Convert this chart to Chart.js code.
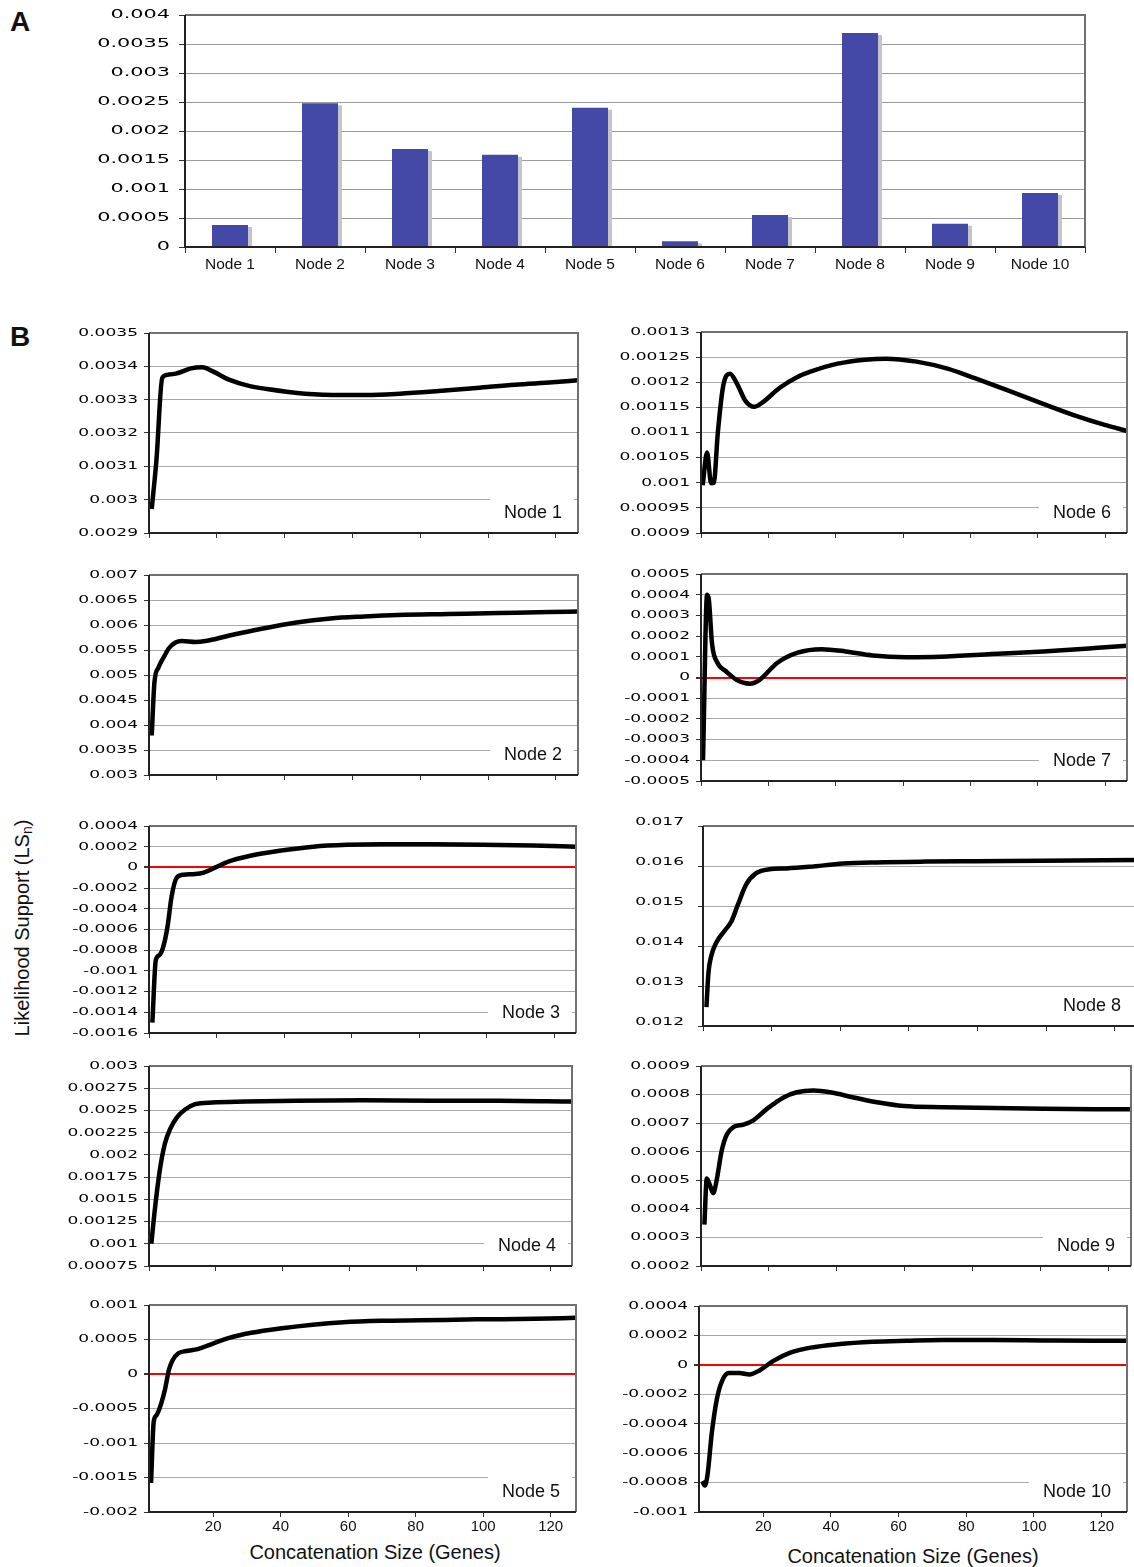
<!DOCTYPE html>
<html>
<head>
<meta charset="utf-8">
<title>Likelihood support per node</title>
<script src="https://cdn.jsdelivr.net/npm/chart.js@4"></script>
<style>
  body { margin: 0; background: #fff; overflow: hidden; }
  #page { position: relative; width: 1134px; height: 1567px; overflow: hidden; font-family: "Liberation Sans", Arial, sans-serif; color: #111; }
  canvas { position: absolute; }
  .panel { position: absolute; left: 10px; font-weight: bold; font-size: 28px; line-height: 28px; }
  .xtitle { position: absolute; font-size: 20px; line-height: 20px; white-space: nowrap; transform: translateX(-50%); }
  .ytitle { position: absolute; font-size: 20px; line-height: 20px; white-space: nowrap; transform: translate(-50%, -50%) rotate(-90deg); }
  .ytitle sub { font-size: 14px; vertical-align: -3px; line-height: 0; }
</style>
</head>
<body>
<div id="page">
  <div class="panel" style="top:8px">A</div>
  <div class="panel" style="top:323px">B</div>
  <div class="ytitle" style="left:22px; top:928px">Likelihood Support (LS<sub>n</sub>)</div>
  <div class="xtitle" style="left:375px; top:1542px">Concatenation Size (Genes)</div>
  <div class="xtitle" style="left:913px; top:1546px">Concatenation Size (Genes)</div>
</div>
<script>
// A: bar chart
const nodeNames = ['Node 1', 'Node 2', 'Node 3', 'Node 4', 'Node 5', 'Node 6', 'Node 7', 'Node 8', 'Node 9', 'Node 10'];
const barValues = [0.00038, 0.00248, 0.00169, 0.00159, 0.0024, 0.0001, 0.00055, 0.00369, 0.0004, 0.00093];
const barAxis = [0, 0.004, 0.0005];

// B: [genes, LSn]
const node1 = [[1.8, 0.002972], [3.2, 0.00312], [4.9, 0.003365], [6.6, 0.003375], [8.9, 0.003378], [13.4, 0.003394], [16.7, 0.003397], [20, 0.003384], [24.6, 0.00336], [30.2, 0.003342], [35.8, 0.003332], [47, 0.003318], [58.3, 0.003314], [65, 0.003314], [75, 0.003318], [86.4, 0.003326], [97.6, 0.003335], [108.9, 0.003345], [120, 0.003352], [127.5, 0.003358]];
const node2 = [[1.8, 0.00379], [2.6, 0.00485], [3.8, 0.00515], [5.3, 0.00535], [6.8, 0.00553], [8.8, 0.00565], [10.7, 0.00568], [14.7, 0.00566], [17.7, 0.00568], [24.7, 0.00579], [34.6, 0.00593], [44.5, 0.00605], [54.5, 0.00613], [64.4, 0.00617], [74.4, 0.0062], [89.3, 0.00622], [104.2, 0.00624], [119, 0.00626], [127.5, 0.00627]];
const node3 = [[2, -0.0015], [3, -0.0009], [4, -0.00085], [5.2, -0.00077], [6.5, -0.00057], [7.7, -0.00028], [9.2, -0.0001], [11.2, -0.00007], [14.7, -0.000064], [17.2, -0.00005], [20.7, 0], [24.7, 0.000058], [30.7, 0.00011], [39.7, 0.00016], [49.7, 0.0002], [59.7, 0.000218], [69.8, 0.000224], [84.8, 0.000224], [99.8, 0.00022], [114.8, 0.000212], [127.5, 0.0002]];
const node4 = [[1.7, 0.001], [2.7, 0.00137], [4.2, 0.00182], [5.7, 0.00212], [7.3, 0.00229], [9.3, 0.00242], [11.8, 0.00251], [14.8, 0.00257], [19.9, 0.00259], [30, 0.0026], [45, 0.00261], [65.3, 0.002615], [85.5, 0.00261], [105.7, 0.00261], [127.5, 0.0026]];
const node5 = [[1.6, -0.00158], [2.4, -0.00069], [3.2, -0.0006], [4.6, -0.00043], [5.8, -0.00021], [6.9, 0.00006], [8, 0.0002], [9.7, 0.0003], [12, 0.000333], [15.4, 0.00036], [18.8, 0.00042], [24.5, 0.00052], [31.3, 0.000597], [40.4, 0.000664], [49.5, 0.000715], [58.6, 0.00075], [70, 0.00077], [81.3, 0.000778], [98.3, 0.000792], [115.4, 0.0008], [127.5, 0.000815]];
const node6 = [[1.5, 0.000995], [2.8, 0.00106], [4, 0.000999], [4.8, 0.001], [6, 0.0011], [7.6, 0.001193], [9.6, 0.001217], [11.7, 0.001197], [14.2, 0.001163], [16.8, 0.001151], [19.3, 0.00116], [24.4, 0.001189], [29.5, 0.00121], [33.5, 0.001221], [41.6, 0.001237], [49.8, 0.001245], [55.9, 0.001247], [65, 0.001241], [74.2, 0.001227], [82.3, 0.001208], [92.5, 0.001183], [102.6, 0.001157], [112.8, 0.001132], [120.9, 0.001115], [127.5, 0.001103]];
const node7 = [[1.6, -0.0004], [2.8, 0.0004], [3.3, 0.00038], [4.3, 0.00016], [5.9, 0.00007], [8.4, 0.00003], [11.4, -0.00001], [15.5, -0.00003], [18.5, -0.00001], [23.6, 0.00007], [29.7, 0.00012], [36.8, 0.000137], [43.9, 0.000126], [52, 0.000106], [62, 0.000098], [72.2, 0.0001], [87.4, 0.000113], [102.6, 0.000126], [117.8, 0.000142], [127.5, 0.000153]];
const node8 = [[2, 0.01247], [2.6, 0.01334], [3.4, 0.01375], [4.9, 0.01409], [7.3, 0.01438], [9.3, 0.01462], [11.2, 0.01504], [13.6, 0.01554], [16.5, 0.01582], [20.4, 0.01592], [25.3, 0.01594], [32, 0.01598], [41.8, 0.01606], [51.5, 0.01609], [66, 0.01611], [80.6, 0.01612], [100, 0.01613], [127.5, 0.01615]];
const node9 = [[2, 0.000345], [2.7, 0.000506], [3.7, 0.00048], [4.6, 0.000455], [5.6, 0.0005], [7.1, 0.000604], [8.6, 0.00066], [10.5, 0.000686], [13.5, 0.000695], [16.4, 0.00071], [20.4, 0.00075], [25.3, 0.00079], [29.2, 0.000808], [34.1, 0.000814], [39, 0.000808], [45.9, 0.00079], [52.8, 0.000773], [60.7, 0.00076], [72.5, 0.000756], [87.2, 0.000753], [102, 0.00075], [116.8, 0.000749], [127.5, 0.000749]];
const node10 = [[2, -0.00079], [2.7, -0.00082], [3.5, -0.00075], [4.8, -0.00046], [6.3, -0.00023], [7.8, -0.00011], [9.8, -0.000056], [12.9, -0.000056], [15.9, -0.000065], [19, -0.000036], [23, 0.000027], [28, 0.000083], [34, 0.000117], [42, 0.00014], [52.3, 0.000157], [62.4, 0.000164], [72.6, 0.000169], [87.8, 0.000169], [103, 0.000166], [118, 0.000164], [127.5, 0.000164]];

// y axes: [min, max, step]
const node1Axis = [0.0029, 0.0035, 0.0001];
const node2Axis = [0.003, 0.007, 0.0005];
const node3Axis = [-0.0016, 0.0004, 0.0002];
const node4Axis = [0.00075, 0.003, 0.00025];
const node5Axis = [-0.002, 0.001, 0.0005];
const node6Axis = [0.0009, 0.0013, 0.00005];
const node7Axis = [-0.0005, 0.0005, 0.0001];
const node8Axis = [0.012, 0.017, 0.001];
const node9Axis = [0.0002, 0.0009, 0.0001];
const node10Axis = [-0.001, 0.0004, 0.0002];

const geneRange = [1, 127.5];
const geneLabels = [20, 40, 60, 80, 100, 120];
const geneMarks = [1, 21, 41, 61, 81, 101, 121];

const page = document.getElementById('page');
const textFont = '"Liberation Sans", Arial, sans-serif';
const numFont = '"DejaVu Sans", sans-serif';

const fmt = v => String(+v.toFixed(7));

function axisTicks(axis) {
  const out = [];
  const n = Math.round((axis[1] - axis[0]) / axis[2]);
  for (let i = 0; i <= n; i++) out.push({ value: +(axis[0] + i * axis[2]).toFixed(7) });
  return out;
}

function place(rect, yw, padTop, xh, padRight) {
  const cv = document.createElement('canvas');
  const left = rect[0] - yw;
  const top = rect[1] - padTop;
  cv.width = rect[2] - left + padRight;
  cv.height = rect[3] - top + xh;
  cv.style.left = left + 'px';
  cv.style.top = top + 'px';
  page.appendChild(cv);
  return cv;
}

// the y numbers are set in a wide face, so they get stretched sideways
const wideYLabels = {
  id: 'wideYLabels',
  afterDraw(chart, args, opts) {
    const y = chart.scales.y;
    const ctx = chart.ctx;
    ctx.save();
    ctx.font = `${opts.size}px ${numFont}`;
    ctx.fillStyle = '#000';
    ctx.textAlign = 'right';
    ctx.textBaseline = 'middle';
    y.ticks.forEach(t => {
      ctx.save();
      ctx.translate(y.right - opts.gap, y.getPixelForValue(t.value) + (opts.shift || 0));
      ctx.scale(opts.stretch, 1);
      ctx.fillText(fmt(t.value), 0, 0);
      ctx.restore();
    });
    ctx.restore();
  }
};

const frame = {
  id: 'frame',
  afterDatasetsDraw(chart) {
    const { left, top, right, bottom } = chart.chartArea;
    const ctx = chart.ctx;
    ctx.save();
    ctx.lineWidth = 2;
    ctx.strokeStyle = '#707070';
    ctx.beginPath();
    ctx.moveTo(left, top); ctx.lineTo(right, top); ctx.lineTo(right, bottom);
    ctx.stroke();
    ctx.strokeStyle = '#222';
    ctx.beginPath();
    ctx.moveTo(left, top); ctx.lineTo(left, bottom); ctx.lineTo(right, bottom);
    ctx.stroke();
    ctx.restore();
  }
};

const nodeTag = {
  id: 'nodeTag',
  beforeDatasetsDraw(chart, args, opts) {
    const a = chart.chartArea;
    const ctx = chart.ctx;
    ctx.save();
    ctx.font = `18px ${textFont}`;
    const w = ctx.measureText(opts.text).width;
    const xr = a.right - 16;
    const yc = a.bottom - 20;
    ctx.fillStyle = '#fff';
    ctx.fillRect(xr - w - 14, yc - 17, w + 26, 34);
    ctx.fillStyle = '#111';
    ctx.textAlign = 'right';
    ctx.textBaseline = 'middle';
    ctx.fillText(opts.text, xr, yc);
    ctx.restore();
  }
};

const barShadow = {
  id: 'barShadow',
  beforeDatasetsDraw(chart) {
    const c = chart.ctx;
    c.save();
    c.shadowColor = '#c4c4cc';
    c.shadowOffsetX = 4;
    c.shadowOffsetY = 2;
    c.shadowBlur = 0;
  },
  afterDatasetsDraw(chart) {
    chart.ctx.restore();
  }
};

// ---- A ----
const barCanvas = place([185, 15, 1085, 247], 145, 12, 35, 15);
new Chart(barCanvas, {
  type: 'bar',
  data: {
    labels: nodeNames,
    datasets: [{ data: barValues, backgroundColor: '#4448a6', barPercentage: 0.4, categoryPercentage: 1 }]
  },
  options: {
    animation: false,
    responsive: false,
    layout: { padding: { top: 12, right: 15, left: 0, bottom: 0 }, autoPadding: false },
    plugins: {
      legend: { display: false },
      tooltip: { enabled: false },
      wideYLabels: { size: 13, stretch: 1.6, gap: 15 }
    },
    scales: {
      x: {
        grid: { offset: true, drawOnChartArea: false, tickLength: 6, color: '#333' },
        border: { display: false },
        ticks: { font: { family: textFont, size: 15.5 }, color: '#111', padding: 2, autoSkip: false, maxRotation: 0 },
        afterFit: s => { s.height = 35; }
      },
      y: {
        min: barAxis[0],
        max: barAxis[1],
        afterBuildTicks: s => { s.ticks = axisTicks(barAxis); },
        ticks: { display: false },
        grid: { color: '#9a9a9a', tickLength: 6, tickColor: '#333' },
        border: { display: false },
        afterFit: s => { s.width = 145; }
      }
    }
  },
  plugins: [barShadow, frame, wideYLabels]
});

// ---- B ----
const panels = [
  { text: 'Node 1', pts: node1, axis: node1Axis, rect: [149, 333, 578, 533], yw: 129 },
  { text: 'Node 2', pts: node2, axis: node2Axis, rect: [149, 575, 578, 775], yw: 129 },
  { text: 'Node 3', pts: node3, axis: node3Axis, rect: [149, 826, 576, 1033], yw: 129, zero: true },
  { text: 'Node 4', pts: node4, axis: node4Axis, rect: [149, 1066, 572, 1266], yw: 129 },
  { text: 'Node 5', pts: node5, axis: node5Axis, rect: [149, 1305, 576, 1512], yw: 129, zero: true, labels: true },
  { text: 'Node 6', pts: node6, axis: node6Axis, rect: [701, 332, 1127, 533], yw: 111 },
  { text: 'Node 7', pts: node7, axis: node7Axis, rect: [701, 574, 1127, 781], yw: 111, zero: true },
  { text: 'Node 8', pts: node8, axis: node8Axis, rect: [703, 826, 1137, 1026], yw: 113, gap: 19, shift: -4 },
  { text: 'Node 9', pts: node9, axis: node9Axis, rect: [701, 1066, 1131, 1266], yw: 111 },
  { text: 'Node 10', pts: node10, axis: node10Axis, rect: [699, 1306, 1127, 1512], yw: 109, zero: true, labels: true }
];

panels.forEach(p => {
  const xh = p.labels ? 30 : 8;
  const cv = place(p.rect, p.yw, 10, xh, 10);
  new Chart(cv, {
    type: 'line',
    data: {
      datasets: [{
        data: p.pts.map(d => ({ x: d[0], y: d[1] })),
        borderColor: '#000',
        borderWidth: 4.5,
        pointRadius: 0,
        cubicInterpolationMode: 'monotone',
        borderJoinStyle: 'round'
      }]
    },
    options: {
      animation: false,
      responsive: false,
      layout: { padding: { top: 10, right: 10, left: 0, bottom: 0 }, autoPadding: false },
      plugins: {
        legend: { display: false },
        tooltip: { enabled: false },
        nodeTag: { text: p.text },
        wideYLabels: { size: 11, stretch: 1.55, gap: p.gap || 11, shift: p.shift || 0 }
      },
      scales: {
        x: {
          type: 'linear',
          min: geneRange[0],
          max: geneRange[1],
          afterBuildTicks: s => { s.ticks = (p.labels ? geneLabels : geneMarks).map(v => ({ value: v })); },
          grid: { drawOnChartArea: false, tickLength: 5, color: '#333' },
          border: { display: false },
          ticks: { display: !!p.labels, font: { family: textFont, size: 15 }, color: '#111', padding: 1, autoSkip: false, maxRotation: 0 },
          afterFit: s => { s.height = xh; }
        },
        y: {
          min: p.axis[0],
          max: p.axis[1],
          afterBuildTicks: s => { s.ticks = axisTicks(p.axis); },
          ticks: { display: false },
          grid: {
            color: c => (p.zero && c.tick && c.tick.value === 0) ? '#ff0000' : '#a8a8a8',
            lineWidth: c => (p.zero && c.tick && c.tick.value === 0) ? 2 : 1,
            tickLength: 5,
            tickColor: '#333'
          },
          border: { display: false },
          afterFit: s => { s.width = p.yw; }
        }
      }
    },
    plugins: [frame, nodeTag, wideYLabels]
  });
});
</script>
</body>
</html>
